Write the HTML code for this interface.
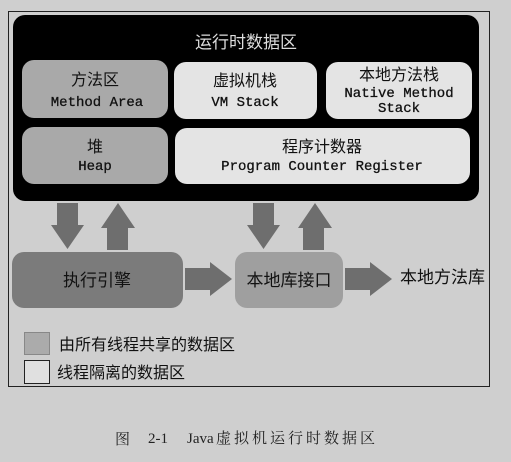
<!DOCTYPE html>
<html><head><meta charset="utf-8"><style>
html,body{margin:0;padding:0;background:#cfcfcf;}
svg{display:block}
.cj{font-family:"Liberation Sans","WenQuanYi Zen Hei","Noto Sans CJK SC",sans-serif;}
.mo{font-family:"Liberation Mono","Noto Sans CJK SC",monospace;}
.se{font-family:"Liberation Serif","Noto Serif CJK SC",serif;}
</style></head><body>
<svg width="511" height="462" viewBox="0 0 511 462" xmlns="http://www.w3.org/2000/svg">
<rect x="0" y="0" width="511" height="462" fill="#cfcfcf"/>
<rect x="8.5" y="11.5" width="481" height="375" fill="none" stroke="#222" stroke-width="1"/>
<rect x="13" y="15" width="466" height="186" rx="12" fill="#000"/>
<text x="246" y="48" text-anchor="middle" class="cj" font-size="17" fill="#ddd">运行时数据区</text>
<rect x="22" y="60" width="146" height="58" rx="12" fill="#a9a9a9"/>
<rect x="174" y="62" width="143" height="57" rx="12" fill="#e4e4e4"/>
<rect x="326" y="62" width="146" height="57" rx="12" fill="#e4e4e4"/>
<rect x="22" y="127" width="146" height="57" rx="12" fill="#a9a9a9"/>
<rect x="175" y="128" width="295" height="56" rx="12" fill="#e4e4e4"/>
<g class="cj" font-size="16" fill="#111" text-anchor="middle">
<text x="95" y="85">方法区</text>
<text x="245" y="86">虚拟机栈</text>
<text x="399" y="80">本地方法栈</text>
<text x="95" y="152">堆</text>
<text x="322" y="152">程序计数器</text>
</g>
<g class="mo" font-size="14" fill="#111" text-anchor="middle" stroke="#111" stroke-width="0.3">
<text x="97" y="106">Method Area</text>
<text x="245" y="106">VM Stack</text>
<text x="399" y="97">Native Method</text>
<text x="399" y="112">Stack</text>
<text x="95" y="170">Heap</text>
<text x="322" y="170">Program Counter Register</text>
</g>
<g fill="#6e6e6e">
<polygon points="57,203 78,203 78,225 84,225 67.5,249 51,225 57,225"/>
<polygon points="107,250 128,250 128,228 135,228 118,203 101,228 107,228"/>
<polygon points="253,203 274,203 274,225 280,225 263.5,249 247,225 253,225"/>
<polygon points="303,250 324,250 324,228 332,228 315,203 298,228 303,228"/>
<polygon points="185,268 210,268 210,262 232,279 210,296 210,290 185,290"/>
<polygon points="345,268 370,268 370,262 392,279 370,296 370,290 345,290"/>
</g>
<rect x="12" y="252" width="171" height="56" rx="12" fill="#7b7b7b"/>
<rect x="235" y="252" width="108" height="56" rx="12" fill="#9f9f9f"/>
<g class="cj" font-size="17" fill="#111">
<text x="97" y="286" text-anchor="middle">执行引擎</text>
<text x="289" y="286" text-anchor="middle">本地库接口</text>
<text x="400" y="283">本地方法库</text>
<text x="59" y="350" font-size="16">由所有线程共享的数据区</text>
<text x="57" y="378" font-size="16">线程隔离的数据区</text>
</g>
<rect x="24.5" y="332.5" width="25" height="22" fill="#ababab" stroke="#888"/>
<rect x="24.5" y="360.5" width="25" height="23" fill="#e0e0e0" stroke="#222"/>
<g class="se" font-size="15" fill="#222">
<text x="115" y="444">图</text>
<text x="148" y="443">2-1</text>
<text x="187" y="443">Java</text>
<text x="216" y="443" letter-spacing="3">虚拟机运行时数据区</text>
</g>
</svg>
</body></html>
